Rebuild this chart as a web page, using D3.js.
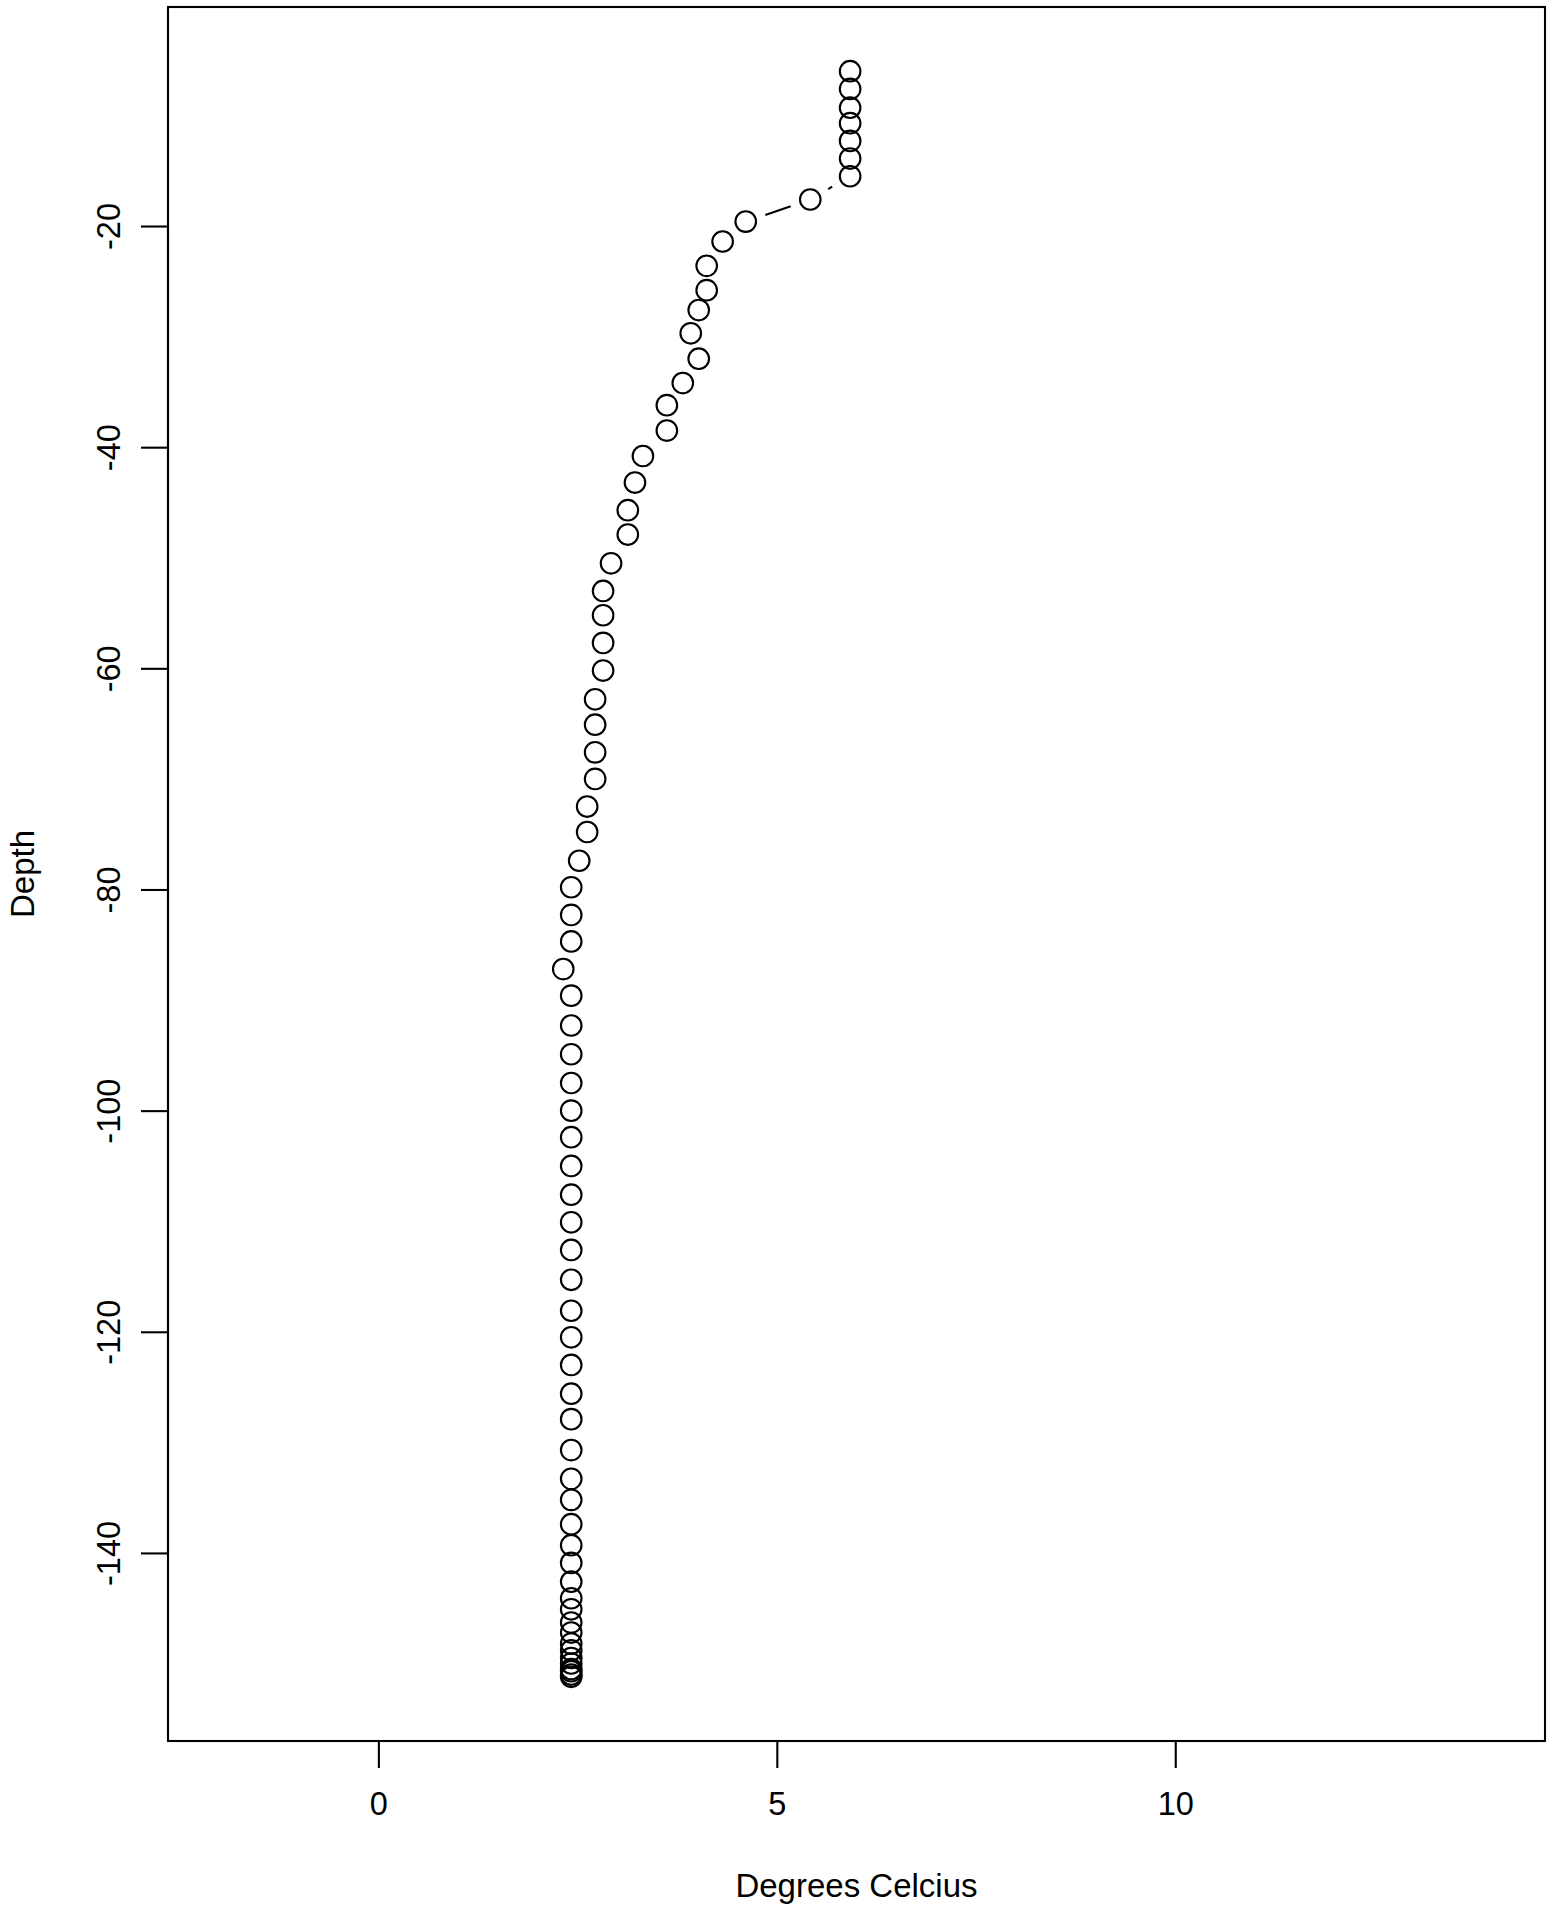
<!DOCTYPE html>
<html>
<head>
<meta charset="utf-8">
<script src="https://cdn.jsdelivr.net/npm/d3@7"></script>
<style>
  html, body { margin: 0; padding: 0; background: #fff; }
  svg { display: block; }
  text { font-family: "Liberation Sans", Arial, Helvetica, sans-serif; fill: #000; }
</style>
</head>
<body>
<svg id="chart" width="1562" height="1909"></svg>
<script>
// Temperature profile (degrees Celsius) vs depth
const depth = [
  -6.0, -7.6, -9.3, -10.7, -12.3, -13.9, -15.5, -17.6, -19.6, -21.4,
  -23.6, -25.8, -27.6, -29.7, -32.0, -34.2, -36.2, -38.5, -40.8, -43.2,
  -45.7, -47.9, -50.5, -53.0, -55.2, -57.7, -60.2, -62.8, -65.1, -67.6,
  -70.0, -72.5, -74.8, -77.4, -79.8, -82.3, -84.7, -87.2, -89.6, -92.3,
  -94.9, -97.5, -100.0, -102.4, -105.0, -107.6, -110.1, -112.6, -115.3, -118.1,
  -120.5, -123.0, -125.6, -127.9, -130.7, -133.3, -135.2, -137.4, -139.3, -140.9,
  -142.6, -144.1, -145.1, -146.3, -147.2, -148.2, -148.8, -149.5, -150.0, -150.5,
  -150.7, -151.0, -151.2
];
const temperature = [
  5.92, 5.92, 5.92, 5.92, 5.92, 5.92, 5.92, 5.42, 4.61, 4.32,
  4.12, 4.12, 4.02, 3.92, 4.02, 3.82, 3.62, 3.62, 3.32, 3.22,
  3.13, 3.13, 2.92, 2.82, 2.82, 2.82, 2.82, 2.72, 2.72, 2.72,
  2.72, 2.62, 2.62, 2.52, 2.42, 2.42, 2.42, 2.32, 2.42, 2.42,
  2.42, 2.42, 2.42, 2.42, 2.42, 2.42, 2.42, 2.42, 2.42, 2.42,
  2.42, 2.42, 2.42, 2.42, 2.42, 2.42, 2.42, 2.42, 2.42, 2.42,
  2.42, 2.42, 2.42, 2.42, 2.42, 2.42, 2.42, 2.42, 2.42, 2.42,
  2.42, 2.42, 2.42
];
const xLimits = [-2, 14];
const xTicks = [0, 5, 10];
const yTicks = [-20, -40, -60, -80, -100, -120, -140];
const xTitle = "Degrees Celcius";
const yTitle = "Depth";

const svg = d3.select("#chart");
const box = { left: 168, right: 1545, top: 7, bottom: 1741 };
const pad = (lo, hi) => { const r = hi - lo; return [lo - 0.04 * r, hi + 0.04 * r]; };

const x = d3.scaleLinear().domain(pad(xLimits[0], xLimits[1])).range([box.left, box.right]);
const yExt = d3.extent(depth);
const y = d3.scaleLinear().domain(pad(yExt[0], yExt[1])).range([box.bottom, box.top]);

const sw = 2.1;
const fs = 32.5;
const pts = depth.map((d, i) => ({ px: x(temperature[i]), py: y(d) }));

// R-style type="b": line segments with gaps around points
const gap = 20.7;
const segs = [];
for (let i = 0; i < pts.length - 1; i++) {
  const a = pts[i], b = pts[i + 1];
  const dx = b.px - a.px, dy = b.py - a.py;
  const len = Math.hypot(dx, dy);
  if (len > 2 * gap) {
    const ux = dx / len, uy = dy / len;
    segs.push({ x1: a.px + ux * gap, y1: a.py + uy * gap, x2: b.px - ux * gap, y2: b.py - uy * gap });
  }
}
svg.append("g").selectAll("line").data(segs).join("line")
  .attr("x1", d => d.x1).attr("y1", d => d.y1)
  .attr("x2", d => d.x2).attr("y2", d => d.y2)
  .attr("stroke", "#000").attr("stroke-width", sw);

svg.append("g").selectAll("circle").data(pts).join("circle")
  .attr("cx", d => d.px).attr("cy", d => d.py).attr("r", 10.3)
  .attr("fill", "none").attr("stroke", "#000").attr("stroke-width", sw);

// Plot box
svg.append("rect")
  .attr("x", box.left).attr("y", box.top)
  .attr("width", box.right - box.left).attr("height", box.bottom - box.top)
  .attr("fill", "none").attr("stroke", "#000").attr("stroke-width", sw);

// X axis
const gx = svg.append("g").attr("transform", `translate(0,${box.bottom})`)
  .call(d3.axisBottom(x).tickValues(xTicks).tickFormat(d3.format("d")).tickSize(27).tickPadding(24));
gx.select(".domain").remove();
gx.append("line").attr("x1", x(xTicks[0])).attr("x2", x(xTicks[xTicks.length - 1]))
  .attr("stroke", "#000").attr("stroke-width", sw);
gx.selectAll(".tick line").attr("stroke", "#000").attr("stroke-width", sw);
gx.selectAll(".tick text").attr("font-size", fs).attr("font-family", "Liberation Sans, Arial, sans-serif").attr("fill", "#000");

// Y axis
const gy = svg.append("g").attr("transform", `translate(${box.left},0)`)
  .call(d3.axisLeft(y).tickValues(yTicks).tickFormat(d => d3.format("d")(d).replace("−", "-")).tickSize(27));
gy.select(".domain").remove();
gy.append("line").attr("y1", y(yTicks[0])).attr("y2", y(yTicks[yTicks.length - 1]))
  .attr("stroke", "#000").attr("stroke-width", sw);
gy.selectAll(".tick line").attr("stroke", "#000").attr("stroke-width", sw);
gy.selectAll(".tick text")
  .attr("font-size", fs).attr("font-family", "Liberation Sans, Arial, sans-serif").attr("fill", "#000")
  .attr("transform", "rotate(-90)")
  .attr("x", 0).attr("y", -48).attr("dy", 0)
  .attr("text-anchor", "middle");

// Titles
svg.append("text")
  .attr("x", (box.left + box.right) / 2).attr("y", 1897)
  .attr("text-anchor", "middle").attr("font-size", 33)
  .text(xTitle);
svg.append("text")
  .attr("transform", `translate(33.5,${(box.top + box.bottom) / 2}) rotate(-90)`)
  .attr("text-anchor", "middle").attr("font-size", 33)
  .text(yTitle);
</script>
</body>
</html>
